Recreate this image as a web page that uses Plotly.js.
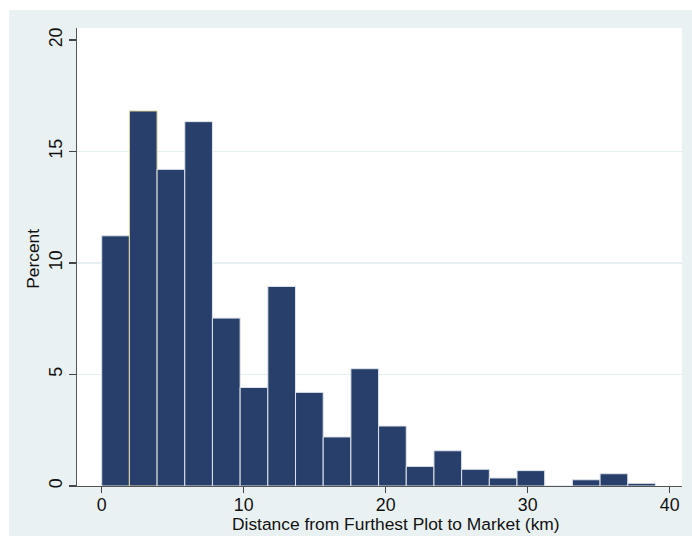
<!DOCTYPE html>
<html>
<head>
<meta charset="utf-8">
<script src="https://cdn.plot.ly/plotly-3.0.1.min.js"></script>
<style>html,body{margin:0;padding:0;background:#fff;}#chart{width:692px;height:536px;}</style>
</head>
<body>
<div id="chart"></div>
<script>
// Bin centers (km), bin width ~1.95 km
const binCenters = [0.975, 2.925, 4.875, 6.825, 8.775, 10.725, 12.675, 14.625, 16.575, 18.525,
                    20.475, 22.425, 24.375, 26.325, 28.275, 30.225, 32.175, 34.125, 36.075, 38.025];
const binWidth = 1.95;
// Percent in each bin
const percents = [11.22, 16.82, 14.20, 16.34, 7.53, 4.42, 8.95, 4.20, 2.20, 5.26,
                  2.69, 0.88, 1.58, 0.75, 0.36, 0.69, 0.0, 0.28, 0.55, 0.12];
const xTicks = [0, 10, 20, 30, 40];
const yTicks = [0, 5, 10, 15, 20];
const xTitle = 'Distance from Furthest Plot to Market (km)';
const yTitle = 'Percent';

const edgeColors = percents.map((_, i) => i === 1 ? '#e6dca4' : '#dfe5eb');

const trace = {
  type: 'bar',
  x: binCenters,
  y: percents,
  width: binCenters.map(() => binWidth),
  marker: {color: '#283f6c', line: {color: edgeColors, width: 1}},
  hoverinfo: 'x+y'
};

const font = {family: '"Liberation Sans", Arial, sans-serif', size: 17.8, color: '#111'};
const titleFont = {family: '"Liberation Sans", Arial, sans-serif', size: 17.4, color: '#111'};

const layout = {
  width: 692, height: 536,
  margin: {l: 77, r: 10, t: 28, b: 50, pad: 0},
  paper_bgcolor: '#eaf1f3',
  plot_bgcolor: '#ffffff',
  font: font,
  showlegend: false,
  bargap: 0,
  xaxis: {
    range: [-1.74, 40.87],
    tickvals: xTicks,
    ticktext: xTicks.map(String),
    ticks: 'outside', ticklen: 6, tickwidth: 1.2, tickcolor: '#444',
    ticklabelstandoff: -4,
    showline: true, linecolor: '#555', linewidth: 1.3,
    showgrid: false, zeroline: false,
    tickfont: font
  },
  yaxis: {
    range: [0, 20.54],
    tickvals: yTicks,
    ticktext: yTicks.map(String),
    tickangle: -90,
    ticks: 'outside', ticklen: 7, tickwidth: 1.2, tickcolor: '#444',
    showline: true, linecolor: '#555', linewidth: 1.3,
    showgrid: false, zeroline: false,
    tickfont: font
  },
  yaxis2: {
    range: [0, 20.54],
    overlaying: 'y',
    tickvals: [5, 10, 15],
    showticklabels: false,
    ticks: '',
    showgrid: true, gridcolor: '#e6eff1', gridwidth: 1.5,
    zeroline: false, showline: false,
    layer: 'below traces'
  },
  annotations: [
    {text: xTitle, xref: 'paper', yref: 'paper', x: 0.527, y: -0.1059,
     xanchor: 'center', yanchor: 'bottom', borderpad: 0, showarrow: false, font: titleFont},
    {text: yTitle, xref: 'paper', yref: 'paper', x: -0.0727, y: 0.496, textangle: -90,
     xanchor: 'center', yanchor: 'middle', showarrow: false, font: titleFont}
  ],
  shapes: [
    {type: 'rect', xref: 'paper', yref: 'paper', x0: -0.2, x1: -0.1124, y0: -0.2, y1: 1.2,
     fillcolor: '#ffffff', line: {width: 0}, layer: 'below'},
    {type: 'rect', xref: 'paper', yref: 'paper', x0: -0.2, x1: 1.2, y0: 1.0393, y1: 1.2,
     fillcolor: '#ffffff', line: {width: 0}, layer: 'below'}
  ]
};

const gridTrace = {type: 'scatter', x: [], y: [], yaxis: 'y2', hoverinfo: 'skip'};

Plotly.newPlot('chart', [gridTrace, trace], layout, {displayModeBar: false, staticPlot: true});
</script>
</body>
</html>
